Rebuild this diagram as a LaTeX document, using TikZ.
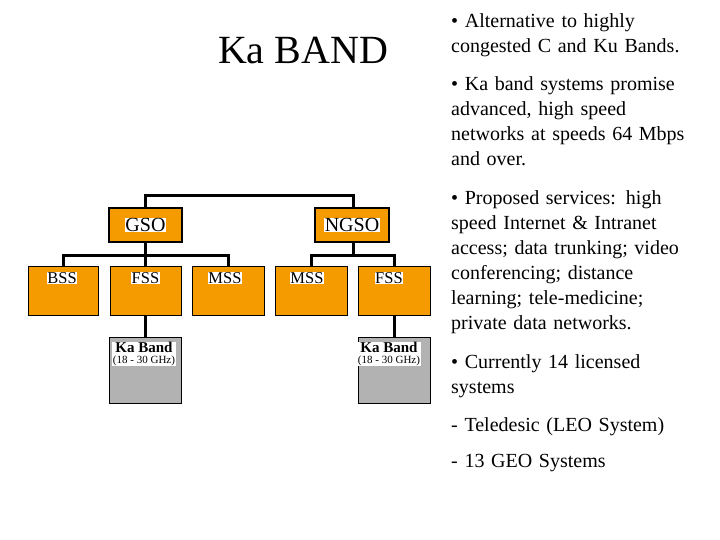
\documentclass[tikz,border=0pt]{standalone}
\usepackage{fontspec}
\setmainfont{Liberation Serif}
\begin{document}
\begin{tikzpicture}[x=1pt,y=-1pt,
 ob/.style={draw=black,line width=1pt,fill=orange1},
 gb/.style={draw=black,line width=0.6pt,fill=gray1},
 lab/.style={fill=white,inner sep=0.5pt,font=\fontsize{16.5}{16.5}\selectfont},
 con/.style={line width=3pt},
 txt/.style={anchor=north west,align=left,text width=265,font=\fontsize{20}{25}\selectfont,inner sep=0}]
\definecolor{orange1}{HTML}{F59B00}
\definecolor{gray1}{HTML}{B2B2B2}
\useasboundingbox (0,0) rectangle (720,540);
\node[font=\fontsize{40}{40}\selectfont] (title) at (303,50) {Ka BAND};
% connectors
\draw[con] (145,208) -- (145,196) -- (353,196) -- (353,208);
\draw[con] (63,266) -- (63,255) -- (228,255) -- (228,266);
\draw[con] (145,242) -- (145,266);
\draw[con] (311,266) -- (311,255) -- (394,255) -- (394,266);
\draw[con] (353,242) -- (353,255);
\draw[con] (145,315) -- (145,337);
\draw[con] (394,315) -- (394,337);
% boxes
\draw[ob,line width=2.5pt] (109,208) rectangle (182,242);
\node[lab,font=\fontsize{20}{20}\selectfont] (gso) at (145.5,225) {GSO};
\draw[ob,line width=2.5pt] (315,208) rectangle (389,242);
\node[lab,font=\fontsize{20}{20}\selectfont] (ngso) at (352,225) {NGSO};
\draw[ob] (28,266) rectangle (98,315);   \node[lab] (bss) at (62,278) {BSS};
\draw[ob] (110,266) rectangle (181,315); \node[lab] (fss1) at (145.5,278) {FSS};
\draw[ob] (192,266) rectangle (264,315); \node[lab] (mss1) at (225,278) {MSS};
\draw[ob] (275,266) rectangle (347,315); \node[lab] (mss2) at (307,278) {MSS};
\draw[ob] (358,266) rectangle (430,315); \node[lab] (fss2) at (389,278) {FSS};
\draw[gb] (109,337) rectangle (181,403);
\node[lab,align=center,font=\fontsize{15}{12}\selectfont] (ka1) at (144,354) {\textbf{Ka Band}\\[-1pt]{\fontsize{11}{11}\selectfont(18 - 30 GHz)}};
\draw[gb] (358,337) rectangle (430,403);
\node[lab,align=center,font=\fontsize{15}{12}\selectfont] (ka2) at (389,354) {\textbf{Ka Band}\\[-1pt]{\fontsize{11}{11}\selectfont(18 - 30 GHz)}};
% right text
\node[txt] (t1) at (451,13) {\raggedright\textbullet{} Alternative to highly\\congested C and Ku Bands.};
\node[txt] (t2) at (451,76) {\raggedright\textbullet{} Ka band systems promise\\advanced, high speed\\networks at speeds 64 Mbps\\and over.};
\node[txt] (t3) at (451,190) {\raggedright\textbullet{} Proposed services: high\\speed Internet \& Intranet\\access; data trunking; video\\conferencing; distance\\learning; tele-medicine;\\private data networks.};
\node[txt] (t4) at (451,354) {\raggedright\textbullet{} Currently 14 licensed\\systems};
\node[txt] (t5) at (451,417) {- Teledesic (LEO System)};
\node[txt] (t6) at (451,454) {- 13 GEO Systems};
\end{tikzpicture}
\end{document}
